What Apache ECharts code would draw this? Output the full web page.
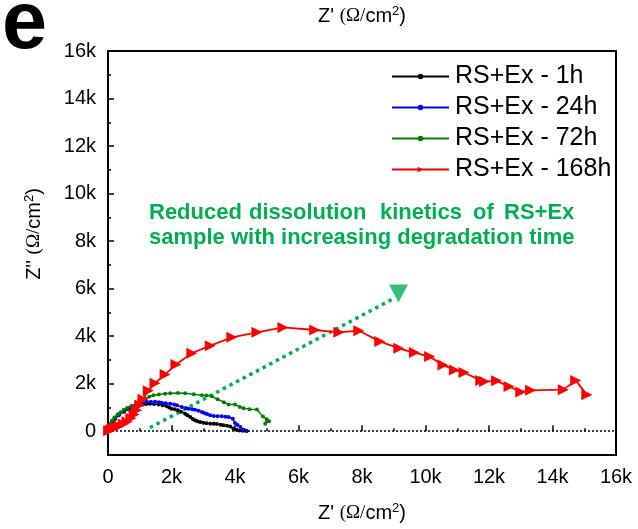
<!DOCTYPE html>
<html>
<head>
<meta charset="utf-8">
<script src="https://cdn.jsdelivr.net/npm/echarts@6/dist/echarts.min.js"></script>
<style>
    html, body { margin: 0; padding: 0; background: #fff; }
    #main { width: 638px; height: 529px; }
</style>
</head>
<body>
<div id="main"></div>
<script>
// values in k (x1000 Ohm/cm2): [Z', Z'']
var names = ['RS+Ex - 1h', 'RS+Ex - 24h', 'RS+Ex - 72h', 'RS+Ex - 168h'];
var colors = ['#000000', '#0000ff', '#008000', '#ff0000'];

var h1 = [[0.0,0.03],[0.05,0.18],[0.12,0.35],[0.22,0.52],[0.35,0.68],[0.5,0.82],[0.65,0.93],[0.8,1.02],[0.95,1.08],
    [1.1,1.12],[1.2,1.15],[1.32,1.16],[1.45,1.15],[1.59,1.13],[1.72,1.09],[1.85,1.05],[1.93,1.0],[2.0,0.95],[2.1,0.92],
    [2.2,0.88],[2.3,0.82],[2.43,0.74],[2.5,0.67],[2.59,0.6],[2.67,0.52],[2.74,0.46],[2.82,0.42],[2.9,0.39],[3.0,0.36],
    [3.1,0.34],[3.22,0.32],[3.33,0.31],[3.43,0.3],[3.55,0.27],[3.64,0.25],[3.75,0.23],[3.85,0.2],[3.95,0.11],[4.05,0.06],
    [4.15,0.03],[4.25,0.02],[4.37,0.01]];
var h24 = [[0.0,0.05],[0.05,0.2],[0.12,0.38],[0.22,0.55],[0.35,0.72],[0.5,0.86],[0.69,1.0],[0.9,1.14],[1.05,1.2],
    [1.22,1.24],[1.35,1.24],[1.48,1.24],[1.6,1.22],[1.69,1.2],[1.82,1.18],[1.96,1.16],[2.08,1.12],[2.17,1.09],[2.32,1.02],
    [2.45,0.98],[2.54,0.95],[2.65,0.93],[2.74,0.9],[2.85,0.86],[2.96,0.81],[3.05,0.76],[3.12,0.72],[3.22,0.67],[3.33,0.64],
    [3.45,0.63],[3.58,0.63],[3.7,0.61],[3.8,0.6],[3.93,0.53],[4.0,0.35],[4.08,0.26],[4.17,0.18],[4.27,0.06],[4.35,0.02]];
var h72 = [[0.0,0.05],[0.03,0.15],[0.07,0.3],[0.13,0.45],[0.2,0.58],[0.3,0.7],[0.4,0.8],[0.5,0.9],[0.6,0.98],[0.75,1.07],
    [0.9,1.16],[1.05,1.28],[1.17,1.37],[1.3,1.45],[1.43,1.51],[1.6,1.55],[1.8,1.58],[1.96,1.6],[2.2,1.61],[2.43,1.6],
    [2.7,1.56],[2.96,1.51],[3.1,1.5],[3.27,1.47],[3.45,1.35],[3.65,1.22],[3.8,1.13],[4.0,1.13],[4.15,1.02],[4.27,0.97],
    [4.46,0.93],[4.69,0.91],[4.88,0.62],[5.0,0.5],[4.95,0.32],[5.07,0.42]];
var h168 = [[0.02,0.02],[0.08,0.06],[0.15,0.1],[0.25,0.16],[0.35,0.22],[0.48,0.3],[0.6,0.4],[0.72,0.55],[0.82,0.7],
    [0.9,0.88],[1.0,1.1],[1.1,1.35],[1.27,1.7],[1.48,2.02],[1.8,2.39],[2.14,2.81],[2.64,3.28],[3.22,3.6],[3.9,3.95],
    [4.69,4.16],[5.51,4.37],[6.51,4.26],[7.27,4.16],[7.9,4.23],[8.56,3.78],[9.16,3.49],[9.65,3.31],[10.13,3.14],
    [10.55,2.79],[10.91,2.58],[11.21,2.47],[11.74,2.14],[11.86,2.09],[12.24,2.12],[12.63,1.88],[13.0,1.65],[13.31,1.72],
    [14.34,1.75],[14.73,2.14],[15.08,1.54]];
var trendLine = [[1.32,0.15],[8.95,5.55]];
var trendHead = [[9.15,5.8]];

var yTicks = [0,2,4,6,8,10,12,14,16];
var yMinor = [-1,1,3,5,7,9,11,13,15];

function k(arr) { return arr.map(function (p) { return [p[0] * 1000, p[1] * 1000]; }); }
function kLabel(v) { return v === 0 ? '0' : (v / 1000) + 'k'; }

var green = '#00b050';
var sans = 'Liberation Sans, Arial, sans-serif';
var noteFont = 'bold 22px Liberation Sans Narrow, Arial Narrow, sans-serif';
var unitRich = {
    s: { fontFamily: sans, fontSize: 20, color: '#000' },
    t: { fontFamily: 'Liberation Serif, serif', fontSize: 19, color: '#000' },
    sup: { fontFamily: sans, fontSize: 13, color: '#000', verticalAlign: 'top', padding: [0, 0, 10, 0] }
};

var chart = echarts.init(document.getElementById('main'));

function lineSeries(i, data, symbol, size, rotate) {
    return {
        name: names[i],
        type: 'line',
        data: k(data),
        symbol: symbol,
        symbolSize: size,
        symbolRotate: rotate || 0,
        color: colors[i],
        lineStyle: { width: i === 3 ? 1.8 : 1.5, color: colors[i] },
        itemStyle: { color: colors[i] },
        z: 3 + i
    };
}

var option = {
    animation: false,
    grid: { left: 108, right: 22, top: 49, bottom: 74, show: true, borderColor: '#000', borderWidth: 2, backgroundColor: 'transparent' },
    legend: {
        left: 386, top: 59, orient: 'vertical', itemWidth: 57, itemHeight: 7, itemGap: 6,
        textStyle: { fontFamily: sans, fontSize: 25, color: '#000', lineHeight: 25, padding: [0, 0, 0, 1] },
        data: names
    },
    graphic: [
        { type: 'text', left: 2, top: -15, style: { text: 'e', font: 'bold 81px Liberation Sans, Arial, sans-serif', fill: '#000' } },
        { type: 'text', x: 34, y: 234, rotation: Math.PI / 2,
          style: { text: "{s|Z'' }{t|(Ω/}{s|cm}{sup|2}{s|)}", rich: unitRich, align: 'center', verticalAlign: 'middle' } },
        { type: 'text', left: 149, top: 202, style: { text: 'Reduced', font: noteFont, fill: green } },
        { type: 'text', left: 249, top: 202, style: { text: 'dissolution', font: noteFont, fill: green } },
        { type: 'text', left: 380, top: 202, style: { text: 'kinetics', font: noteFont, fill: green } },
        { type: 'text', left: 473, top: 202, style: { text: 'of', font: noteFont, fill: green } },
        { type: 'text', left: 504, top: 202, style: { text: 'RS+Ex', font: noteFont, fill: green } },
        { type: 'text', left: 149, top: 227, style: { text: 'sample with increasing degradation time', font: noteFont, fill: green } }
    ],
    xAxis: [{
        type: 'value', min: 0, max: 16000, interval: 2000, position: 'bottom',
        name: "{s|Z' }{t|(Ω/}{s|cm}{sup|2}{s|)}", nameLocation: 'middle', nameGap: 47,
        nameTextStyle: { rich: unitRich },
        axisLine: { show: false },
        axisTick: { inside: true, length: 6, lineStyle: { color: '#000', width: 1.5 } },
        minorTick: { show: true, splitNumber: 2, length: 3, lineStyle: { color: '#000', width: 1.5 } },
        splitLine: { show: false },
        axisLabel: { fontFamily: sans, fontSize: 20, color: '#000', margin: 12, formatter: kLabel }
    }, {
        type: 'value', min: 0, max: 16000, position: 'top',
        name: "{s|Z' }{t|(Ω/}{s|cm}{sup|2}{s|)}", nameLocation: 'middle', nameGap: 23,
        nameTextStyle: { rich: unitRich },
        axisLine: { show: false }, axisTick: { show: false }, axisLabel: { show: false }, splitLine: { show: false }
    }],
    yAxis: [{
        type: 'value', min: -1000, max: 16000, interval: 1000, position: 'left',
        axisLine: { show: false },
        axisTick: { inside: true, length: 6, customValues: yTicks.map(function (v) { return v * 1000; }), lineStyle: { color: '#000', width: 1.5 } },
        splitLine: { show: false },
        axisLabel: { fontFamily: sans, fontSize: 20, color: '#000', margin: 12, customValues: yTicks.map(function (v) { return v * 1000; }), formatter: kLabel }
    }, {
        type: 'value', min: -1000, max: 16000, interval: 1000, position: 'left',
        axisLine: { show: false },
        axisTick: { inside: true, length: 3, customValues: yMinor.map(function (v) { return v * 1000; }), lineStyle: { color: '#000', width: 1.5 } },
        axisLabel: { show: false }, splitLine: { show: false }
    }],
    series: [
        lineSeries(0, h1, 'circle', 4),
        lineSeries(1, h24, 'circle', 4),
        lineSeries(2, h72, 'circle', 4),
        lineSeries(3, h168, 'triangle', 11, -90),
        {
            type: 'line', data: k(trendLine), showSymbol: false, symbol: 'none', z: 2,
            lineStyle: { color: green, width: 3.5, type: [3.5, 4] },
            markLine: {
                silent: true, symbol: 'none', label: { show: false },
                lineStyle: { color: '#000', width: 1.5, type: [2, 2] },
                data: [{ yAxis: 0 }]
            }
        },
        {
            type: 'scatter', data: k(trendHead), symbol: 'triangle', symbolSize: [19, 18], symbolRotate: 180,
            itemStyle: { color: green }, z: 2
        }
    ]
};
chart.setOption(option);
</script>
</body>
</html>
